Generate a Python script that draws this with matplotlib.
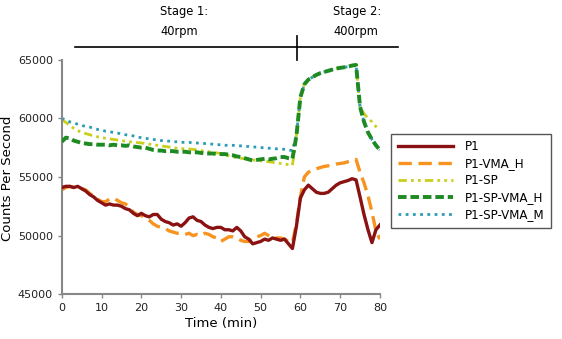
import numpy as np
import matplotlib
matplotlib.use("Agg")
import matplotlib.pyplot as plt

# time axis (minutes), one reading per minute
time_min = list(range(0, 81))

p1 = [54100, 54200, 54200, 54100, 54200, 54000, 53800, 53500, 53300, 53000,
      52800, 52600, 52700, 52600, 52600, 52500, 52300, 52200, 51900, 51700,
      51900, 51700, 51600, 51800, 51800, 51400, 51200, 51100, 50900, 51000,
      50800, 51100, 51500, 51600, 51300, 51200, 50900, 50700, 50600, 50700,
      50700, 50500, 50500, 50400, 50700, 50400, 49900, 49700, 49300, 49400,
      49500, 49700, 49600, 49800, 49700, 49600, 49700, 49300, 48900, 50800,
      53200, 53900, 54300, 54000, 53700, 53600, 53600, 53700, 54000, 54300,
      54500, 54600, 54700, 54850, 54750, 53300, 51800, 50500, 49400, 50500,
      50900]

p1_vma_h = [53900, 54100, 54200, 54100, 54000, 54000, 53900, 53600, 53400, 53100,
            52900, 52900, 53100, 53200, 53000, 52800, 52700, 52400, 52000, 51800,
            51700, 51500, 51300, 51000, 50800, 50700, 50600, 50400, 50300, 50200,
            50200, 50100, 50200, 50000, 50100, 50000, 50200, 50100, 49900, 49800,
            49500, 49700, 49900, 49900, 49800, 49600, 49500, 49500, 49800, 49900,
            50000, 50200, 50000, 49800, 49800, 49800, 49700, 49500, 49400, 51000,
            53300, 55000, 55400, 55600, 55700, 55800, 55900, 55950, 56000, 56100,
            56150, 56200, 56300, 56400, 56500, 55400, 54500, 53400, 52000, 50400,
            49700]

p1_sp = [59900, 59650, 59400, 59150, 58950, 58800, 58700, 58600, 58500, 58420,
         58350, 58300, 58250, 58200, 58150, 58100, 58050, 58000, 57970, 57930,
         57900, 57850, 57800, 57750, 57700, 57650, 57600, 57550, 57500, 57450,
         57420, 57400, 57380, 57350, 57300, 57250, 57200, 57150, 57100, 57050,
         57000, 56900, 56800, 56720, 56650, 56600, 56550, 56500, 56450, 56400,
         56380, 56350, 56300, 56250, 56200, 56150, 56100, 56050, 56000, 58500,
         61800, 62900, 63300, 63500, 63700, 63850, 63950, 64050, 64150, 64250,
         64300, 64350, 64400, 64500, 64550, 61000, 60400, 60000, 59700, 59300,
         59000]

p1_sp_vma_h = [58000, 58350, 58300, 58100, 58000, 57900, 57850, 57800, 57800, 57750,
               57750, 57750, 57700, 57750, 57700, 57700, 57650, 57700, 57600, 57550,
               57500, 57500, 57400, 57300, 57250, 57250, 57200, 57200, 57200, 57150,
               57150, 57150, 57100, 57100, 57100, 57050, 57000, 57000, 57000, 56950,
               56950, 56950, 56900, 56850, 56750, 56700, 56600, 56500, 56400, 56450,
               56500, 56550, 56500, 56550, 56600, 56700, 56700, 56600, 56550, 58500,
               61800, 62900, 63300, 63500, 63700, 63850, 63950, 64050, 64150, 64250,
               64300, 64350, 64400, 64500, 64550, 61000, 59700, 58800, 58200, 57700,
               57300]

p1_sp_vma_m = [60000, 59850, 59700, 59600, 59500, 59400, 59300, 59250, 59150, 59050,
               59000, 58900, 58850, 58800, 58750, 58650, 58600, 58550, 58500, 58400,
               58350, 58300, 58250, 58200, 58150, 58100, 58100, 58050, 58000, 58000,
               57950, 57950, 57950, 57900, 57900, 57850, 57850, 57800, 57800, 57750,
               57750, 57700, 57700, 57700, 57650, 57650, 57600, 57600, 57550, 57550,
               57500, 57500, 57450, 57450, 57400, 57400, 57350, 57300, 57250, 58600,
               61800, 62900, 63300, 63500, 63700, 63850, 63950, 64050, 64150, 64250,
               64300, 64350, 64400, 64500, 64550, 61000, 59700, 58800, 58200, 57700,
               57300]

labels = ["P1", "P1-VMA_H", "P1-SP", "P1-SP-VMA_H", "P1-SP-VMA_M"]
x_ticks = [0, 10, 20, 30, 40, 50, 60, 70, 80]
y_ticks = [45000, 50000, 55000, 60000, 65000]

fig = plt.figure(figsize=(5.62, 3.39), dpi=100)
ax = fig.add_axes([0.110, 0.132, 0.566, 0.692])

# teal series sits under the green one in stage 2
h1, = ax.plot(time_min, p1, color="#8b1212", lw=2.4, zorder=3)
h2, = ax.plot(time_min, p1_vma_h, color="#f7931e", lw=2.4, ls=(0, (4, 2)), zorder=2)
h3, = ax.plot(time_min, p1_sp, color="#c9cf1a", lw=2.0, ls=(0, (3, 1.5, 1, 1.5, 1, 1.5)), zorder=2)
h5, = ax.plot(time_min, p1_sp_vma_m, color="#2a9db5", lw=2.0, ls=(0, (1, 1.6)), zorder=2)
h4, = ax.plot(time_min, p1_sp_vma_h, color="#1e8a22", lw=2.8, ls=(0, (2.2, 1)), zorder=4)

ax.set_xlim(0, 80)
ax.set_ylim(45000, 65000)
ax.set_xticks(x_ticks)
ax.set_yticks(y_ticks)
ax.tick_params(labelsize=8, colors="#222222", length=3, width=1, color="#888888")
for s in ["top", "right"]:
    ax.spines[s].set_visible(False)
for s in ["left", "bottom"]:
    ax.spines[s].set_color("#888888")
    ax.spines[s].set_linewidth(1.5)

ax.set_xlabel("Time (min)", fontsize=9.5, labelpad=3)
fig.text(0.013, 0.475, "Counts Per Second", rotation=90, fontsize=9.5,
         ha="center", va="center")

# stage bar above the plot
fig.add_artist(plt.Line2D([0.133, 0.708], [0.861, 0.861], color="black", lw=1.2))
fig.add_artist(plt.Line2D([0.528, 0.528], [0.894, 0.823], color="black", lw=1.2))
fig.text(0.285, 0.965, "Stage 1:", fontsize=8.3, ha="left", va="center")
fig.text(0.285, 0.908, "40rpm", fontsize=8.3, ha="left", va="center")
fig.text(0.593, 0.965, "Stage 2:", fontsize=8.3, ha="left", va="center")
fig.text(0.593, 0.908, "400rpm", fontsize=8.3, ha="left", va="center")

leg = fig.legend([h1, h2, h3, h4, h5], labels, loc="upper left",
                 bbox_to_anchor=(0.696, 0.605), fontsize=8.6, handlelength=4.6,
                 labelspacing=0.33, fancybox=False, framealpha=1,
                 edgecolor="#555555", borderpad=0.55, borderaxespad=0,
                 handletextpad=1.0)
leg.get_frame().set_linewidth(1.0)

fig.savefig("out.png", dpi=100)
